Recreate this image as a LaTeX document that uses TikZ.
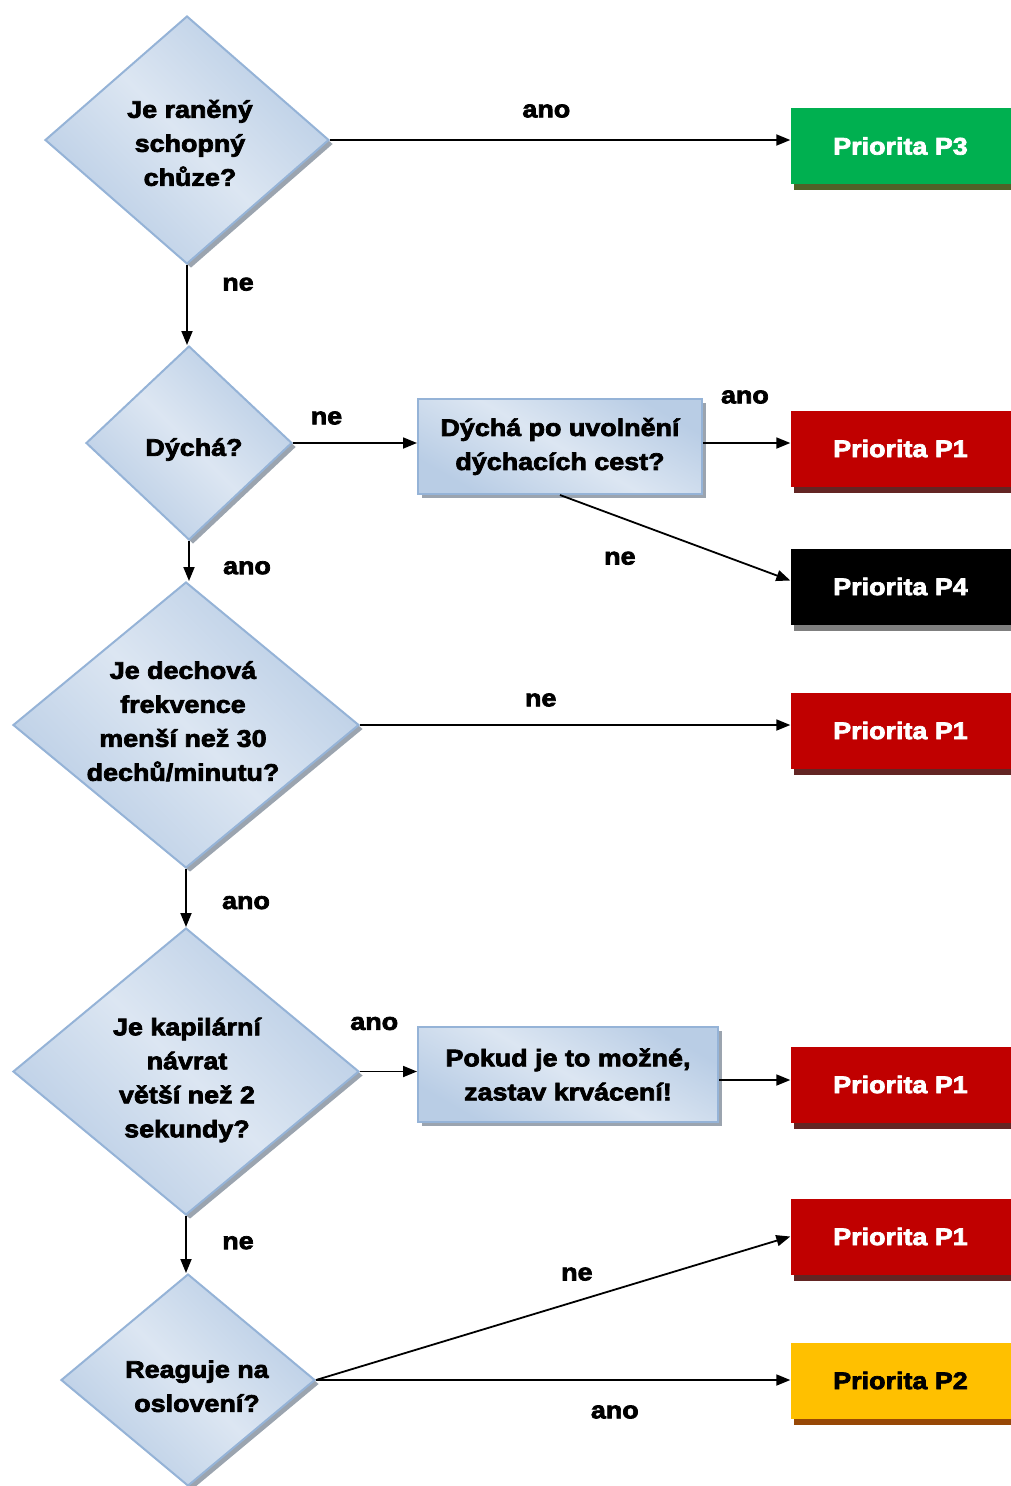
\documentclass[tikz,border=0pt]{standalone}
\usepackage{fontspec}
\setmainfont{Liberation Sans}[BoldFeatures={FakeBold=3,FakeStretch=1.12}]
\usetikzlibrary{shapes.geometric,arrows.meta,shadows}
\definecolor{dborder}{HTML}{95B3D7}
\definecolor{dlight}{HTML}{DCE6F2}
\definecolor{ddark}{HTML}{B9CDE5}
\definecolor{dshadow}{HTML}{9BA4AF}
\definecolor{pgreen}{HTML}{00B050}
\definecolor{pgreensh}{HTML}{4F6228}
\definecolor{pred}{HTML}{C00000}
\definecolor{predsh}{HTML}{632523}
\definecolor{pblacksh}{HTML}{7F7F7F}
\definecolor{pyellow}{HTML}{FFC000}
\definecolor{pyellowsh}{HTML}{974806}
% text block shifted by dx (right) and dy (down) inside its node
\newcommand{\dtxt}[3]{\raisebox{-#2pt}[\height][\depth]{\hspace*{#1pt}\hspace*{#1pt}\begin{tabular}{@{}c@{}}#3\end{tabular}}}
\begin{document}
\begin{tikzpicture}[x=1pt,y=-1pt,
  every node/.style={font=\fontsize{24}{34}\selectfont\bfseries},
  decision/.style={diamond, draw=dborder, line width=2pt, top color=ddark, bottom color=ddark, middle color=dlight, shading angle=-45, align=center, inner sep=-10pt,
    general shadow={fill=dshadow, shadow xshift=4pt, shadow yshift=-4pt}},
  process/.style={rectangle, draw=dborder, line width=2pt, top color=ddark, bottom color=ddark, middle color=dlight, shading angle=-30, align=center, inner sep=0pt,
    minimum height=95, general shadow={fill=dshadow, shadow xshift=4pt, shadow yshift=-4pt}},
  pbox/.style 2 args={rectangle, fill=#1, minimum width=220, minimum height=76, inner sep=0pt, text=white,
    general shadow={fill=#2, shadow xshift=3pt, shadow yshift=-6pt}},
  lbl/.style={inner sep=0pt, text=black},
  arr/.style={line width=1.8pt, -{Triangle[length=14pt,width=11pt]}}
]
\useasboundingbox (0,0) rectangle (1010,1486);

% decisions
\node[decision, minimum width=284, minimum height=248] (d1) at (187,140) {\dtxt{3}{5}{Je raněný\\schopný\\chůze?}};
\node[decision, minimum width=206, minimum height=194] (d2) at (189,443) {\dtxt{5}{6}{Dýchá?}};
\node[decision, minimum width=346, minimum height=286] (d3) at (186,725) {\dtxt{-3}{-2}{Je dechová\\frekvence\\menší než 30\\dechů/minutu?}};
\node[decision, minimum width=346, minimum height=287] (d4) at (186,1071.5) {\dtxt{1}{8}{Je kapilární\\návrat\\větší než 2\\sekundy?}};
\node[decision, minimum width=254, minimum height=212] (d5) at (188,1380) {\dtxt{9}{8}{Reaguje na\\oslovení?}};

% process boxes
\node[process, minimum width=284] (r1) at (560,446.5) {Dýchá po uvolnění\\dýchacích cest?};
\node[process, minimum width=300] (r2) at (568,1074.5) {Pokud je to možné,\\zastav krvácení!};

% priority boxes
\node[pbox={pgreen}{pgreensh}] (p3) at (900.5,146) {Priorita P3};
\node[pbox={pred}{predsh}] (p1a) at (900.5,448.5) {Priorita P1};
\node[pbox={black}{pblacksh}] (p4) at (900.5,586.5) {Priorita P4};
\node[pbox={pred}{predsh}] (p1b) at (900.5,730.5) {Priorita P1};
\node[pbox={pred}{predsh}] (p1c) at (900.5,1084.5) {Priorita P1};
\node[pbox={pred}{predsh}] (p1d) at (900.5,1236.5) {Priorita P1};
\node[pbox={pyellow}{pyellowsh}, text=black] (p2) at (900.5,1380.5) {Priorita P2};

% connectors
\draw[arr] (d1.east) -- (d1.east -| p3.west) node[lbl,pos=0.47,yshift=29]{ano};
\draw[arr] (d1.south) -- (d1.south |- d2.north) node[lbl,pos=0.24,xshift=51]{ne};
\draw[arr] (d2.east) -- (d2.east -| r1.west) node[lbl,pos=0.27,yshift=25]{ne};
\coordinate (r1o) at (r1.east |- d2.east);
\draw[arr] (r1o) -- (r1o -| p1a.west) node[lbl,pos=0.48,yshift=46]{ano};
\coordinate (p4i) at ([yshift=6]p4.west);
\draw[arr] (r1.south) -- (p4i) node[lbl,pos=0.26,yshift=-41]{ne};
\draw[arr] (d2.south) -- (d2.south |- d3.north) node[lbl,pos=0.67,xshift=58]{ano};
\draw[arr] (d3.east) -- (d3.east -| p1b.west) node[lbl,pos=0.42,yshift=25]{ne};
\draw[arr] (d3.south) -- (d3.south |- d4.north) node[lbl,pos=0.58,xshift=60]{ano};
\draw[arr] (d4.east) -- (d4.east -| r2.west) node[lbl,pos=0.25,yshift=48]{ano};
\coordinate (r2o) at ([yshift=-5.5]r2.east);
\draw[arr] (r2o) -- (r2o -| p1c.west);
\draw[arr] (d4.south) -- (d4.south |- d5.north) node[lbl,pos=0.47,xshift=52]{ne};
\draw[arr] (d5.east) -- (p1d.west) node[lbl,pos=0.55,yshift=27]{ne};
\draw[arr] (d5.east) -- (d5.east -| p2.west) node[lbl,pos=0.63,yshift=-32]{ano};
\end{tikzpicture}
\end{document}
